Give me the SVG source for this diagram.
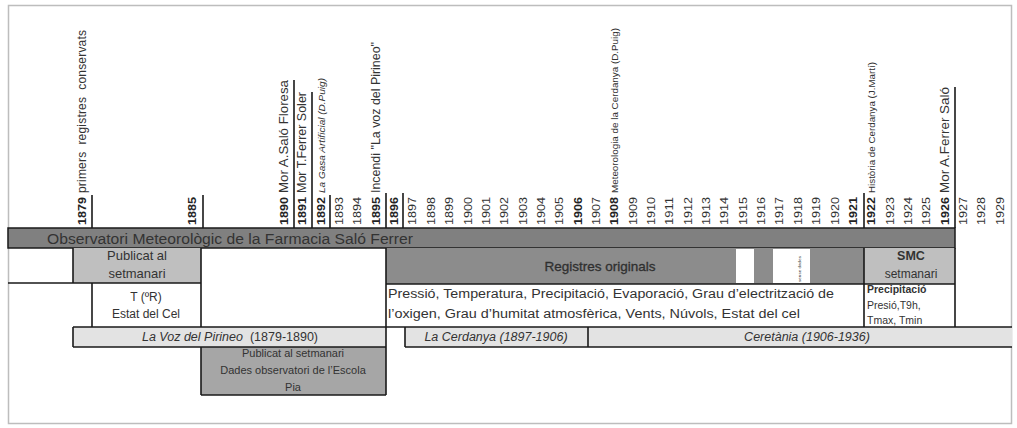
<svg xmlns="http://www.w3.org/2000/svg" width="1017" height="428" viewBox="0 0 1017 428">
<style>
text{font-family:"Liberation Sans",Arial,sans-serif;fill:#333}
.yr{font-size:11px}
.yb{font-size:11px;font-weight:bold;fill:#222}
.ev{font-size:12px}
.sm{font-size:8.5px}
.ln{stroke:#1a1a1a;stroke-width:1.6;fill:none}
.c{text-anchor:middle}
</style>
<rect x="0" y="0" width="1017" height="428" fill="#fff"/>
<rect x="8.5" y="5.5" width="1003" height="418" fill="none" stroke="#bdbdbd" stroke-width="1.5"/>

<g id="years">
<text class="yb" textLength="28" lengthAdjust="spacingAndGlyphs" transform="translate(86,225) rotate(-90)">1879</text>
<text class="yb" textLength="28" lengthAdjust="spacingAndGlyphs" transform="translate(196,225) rotate(-90)">1885</text>
<text class="yb" textLength="28" lengthAdjust="spacingAndGlyphs" transform="translate(288,225) rotate(-90)">1890</text>
<text class="yb" textLength="28" lengthAdjust="spacingAndGlyphs" transform="translate(306.3,225) rotate(-90)">1891</text>
<text class="yb" textLength="28" lengthAdjust="spacingAndGlyphs" transform="translate(324.7,225) rotate(-90)">1892</text>
<text class="yr" textLength="28" lengthAdjust="spacingAndGlyphs" transform="translate(343,225) rotate(-90)">1893</text>
<text class="yr" textLength="28" lengthAdjust="spacingAndGlyphs" transform="translate(361.4,225) rotate(-90)">1894</text>
<text class="yb" textLength="28" lengthAdjust="spacingAndGlyphs" transform="translate(379.7,225) rotate(-90)">1895</text>
<text class="yb" textLength="28" lengthAdjust="spacingAndGlyphs" transform="translate(398.1,225) rotate(-90)">1896</text>
<text class="yr" textLength="28" lengthAdjust="spacingAndGlyphs" transform="translate(416.4,225) rotate(-90)">1897</text>
<text class="yr" textLength="28" lengthAdjust="spacingAndGlyphs" transform="translate(434.8,225) rotate(-90)">1898</text>
<text class="yr" textLength="28" lengthAdjust="spacingAndGlyphs" transform="translate(453.1,225) rotate(-90)">1899</text>
<text class="yr" textLength="28" lengthAdjust="spacingAndGlyphs" transform="translate(471.5,225) rotate(-90)">1900</text>
<text class="yr" textLength="28" lengthAdjust="spacingAndGlyphs" transform="translate(489.8,225) rotate(-90)">1901</text>
<text class="yr" textLength="28" lengthAdjust="spacingAndGlyphs" transform="translate(508.2,225) rotate(-90)">1902</text>
<text class="yr" textLength="28" lengthAdjust="spacingAndGlyphs" transform="translate(526.5,225) rotate(-90)">1903</text>
<text class="yr" textLength="28" lengthAdjust="spacingAndGlyphs" transform="translate(544.9,225) rotate(-90)">1904</text>
<text class="yr" textLength="28" lengthAdjust="spacingAndGlyphs" transform="translate(563.2,225) rotate(-90)">1905</text>
<text class="yb" textLength="28" lengthAdjust="spacingAndGlyphs" transform="translate(581.6,225) rotate(-90)">1906</text>
<text class="yr" textLength="28" lengthAdjust="spacingAndGlyphs" transform="translate(599.9,225) rotate(-90)">1907</text>
<text class="yb" textLength="28" lengthAdjust="spacingAndGlyphs" transform="translate(618.3,225) rotate(-90)">1908</text>
<text class="yr" textLength="28" lengthAdjust="spacingAndGlyphs" transform="translate(636.6,225) rotate(-90)">1909</text>
<text class="yr" textLength="28" lengthAdjust="spacingAndGlyphs" transform="translate(655,225) rotate(-90)">1910</text>
<text class="yr" textLength="28" lengthAdjust="spacingAndGlyphs" transform="translate(673.3,225) rotate(-90)">1911</text>
<text class="yr" textLength="28" lengthAdjust="spacingAndGlyphs" transform="translate(691.7,225) rotate(-90)">1912</text>
<text class="yr" textLength="28" lengthAdjust="spacingAndGlyphs" transform="translate(710,225) rotate(-90)">1913</text>
<text class="yr" textLength="28" lengthAdjust="spacingAndGlyphs" transform="translate(728.4,225) rotate(-90)">1914</text>
<text class="yr" textLength="28" lengthAdjust="spacingAndGlyphs" transform="translate(746.7,225) rotate(-90)">1915</text>
<text class="yr" textLength="28" lengthAdjust="spacingAndGlyphs" transform="translate(765.1,225) rotate(-90)">1916</text>
<text class="yr" textLength="28" lengthAdjust="spacingAndGlyphs" transform="translate(783.4,225) rotate(-90)">1917</text>
<text class="yr" textLength="28" lengthAdjust="spacingAndGlyphs" transform="translate(801.8,225) rotate(-90)">1918</text>
<text class="yr" textLength="28" lengthAdjust="spacingAndGlyphs" transform="translate(820.1,225) rotate(-90)">1919</text>
<text class="yr" textLength="28" lengthAdjust="spacingAndGlyphs" transform="translate(838.5,225) rotate(-90)">1920</text>
<text class="yb" textLength="28" lengthAdjust="spacingAndGlyphs" transform="translate(856.8,225) rotate(-90)">1921</text>
<text class="yb" textLength="28" lengthAdjust="spacingAndGlyphs" transform="translate(875.2,225) rotate(-90)">1922</text>
<text class="yr" textLength="28" lengthAdjust="spacingAndGlyphs" transform="translate(893.5,225) rotate(-90)">1923</text>
<text class="yr" textLength="28" lengthAdjust="spacingAndGlyphs" transform="translate(911.9,225) rotate(-90)">1924</text>
<text class="yr" textLength="28" lengthAdjust="spacingAndGlyphs" transform="translate(930.2,225) rotate(-90)">1925</text>
<text class="yb" textLength="28" lengthAdjust="spacingAndGlyphs" transform="translate(948.6,225) rotate(-90)">1926</text>
<text class="yr" textLength="28" lengthAdjust="spacingAndGlyphs" transform="translate(966.9,225) rotate(-90)">1927</text>
<text class="yr" textLength="28" lengthAdjust="spacingAndGlyphs" transform="translate(985.3,225) rotate(-90)">1928</text>
<text class="yr" textLength="28" lengthAdjust="spacingAndGlyphs" transform="translate(1003.6,225) rotate(-90)">1929</text>
</g>

<g id="events">
<text class="ev" textLength="163" transform="translate(86,193) rotate(-90)" xml:space="preserve">primers  registres  conservats</text>
<text class="ev" textLength="113" lengthAdjust="spacingAndGlyphs" transform="translate(288,193) rotate(-90)">Mor A.Saló Floresa</text>
<text class="ev" textLength="101" lengthAdjust="spacingAndGlyphs" transform="translate(306.3,193) rotate(-90)">Mor T.Ferrer Soler</text>
<text class="sm" font-style="italic" textLength="115" lengthAdjust="spacingAndGlyphs" transform="translate(324.7,193) rotate(-90)">La Gasa Artificial (D.Puig)</text>
<text class="ev" font-size="11" textLength="151" lengthAdjust="spacingAndGlyphs" transform="translate(379.7,193) rotate(-90)">Incendi "La voz del Pirineo"</text>
<text class="sm" textLength="165" lengthAdjust="spacingAndGlyphs" transform="translate(618.3,193) rotate(-90)">Meteorologia de la Cerdanya (D.Puig)</text>
<text class="sm" textLength="131" lengthAdjust="spacingAndGlyphs" transform="translate(875.2,193) rotate(-90)">Història de Cerdanya (J.Martí)</text>
<text class="ev" textLength="106" lengthAdjust="spacingAndGlyphs" transform="translate(948.6,193) rotate(-90)">Mor A.Ferrer Saló</text>
</g>

<g id="main-bar">
<rect x="8" y="228" width="947" height="20" fill="#808080" stroke="#1a1a1a" stroke-width="1.5"/>
<text x="47" y="244" font-size="15.5" textLength="366" lengthAdjust="spacingAndGlyphs" fill="#2a2a2a">Observatori Meteorològic de la Farmacia Saló Ferrer</text>
</g>

<g id="publicat-1879">
<rect x="73" y="248" width="128" height="35" fill="#bfbfbf"/>
<text class="c" x="137" y="260" font-size="13" fill="#444">Publicat al</text>
<text class="c" x="137" y="278" font-size="13" fill="#444">setmanari</text>
</g>

<g id="t-estat">
<text class="c" x="146" y="301" font-size="12" fill="#444">T (ºR)</text>
<text class="c" x="146" y="318" font-size="12" fill="#444">Estat del Cel</text>
</g>

<g id="registres">
<rect x="386" y="248" width="478" height="36" fill="#8c8c8c"/>
<rect x="736" y="249" width="18" height="34" fill="#fff"/>
<rect x="773" y="249" width="37" height="34" fill="#fff"/>
<text x="600" y="271" class="c" font-size="13.5" fill="#2a2a2a" stroke="#2a2a2a" stroke-width="0.3">Registres originals</text>
<text font-size="4" textLength="26" lengthAdjust="spacingAndGlyphs" transform="translate(801,282) rotate(-90)" fill="#333">sense dades</text>
</g>

<g id="variables">
<text x="388" y="298" font-size="12.5" textLength="446" lengthAdjust="spacingAndGlyphs" fill="#333">Pressió, Temperatura, Precipitació, Evaporació, Grau d’electrització de</text>
<text x="388" y="318" font-size="12.5" textLength="412" lengthAdjust="spacingAndGlyphs" fill="#333">l’oxigen, Grau d’humitat atmosfèrica, Vents, Núvols, Estat del cel</text>
</g>

<g id="smc">
<rect x="864" y="248" width="91" height="36" fill="#bfbfbf"/>
<text class="c" x="911" y="260" font-size="12.5" font-weight="bold" fill="#333">SMC</text>
<text class="c" x="911" y="278" font-size="12" fill="#666">setmanari</text>
</g>

<g id="smc-vars">
<svg x="864" y="284" width="91" height="42">
<text x="3" y="9" font-size="10.5" font-weight="bold" fill="#222">Precipitació</text>
<text x="3" y="25" font-size="10.5" fill="#333">Presió,T9h,</text>
<text x="3" y="40" font-size="10.5" fill="#333">Tmax, Tmin</text>
</svg>
</g>

<g id="la-voz">
<rect x="73" y="327" width="313" height="20" fill="#e3e3e3"/>
<text class="c" x="230" y="341" font-size="12.5" fill="#333" xml:space="preserve"><tspan font-style="italic">La Voz del Pirineo</tspan>  (1879-1890)</text>
</g>

<g id="la-cerdanya">
<rect x="405" y="327" width="183" height="20" fill="#e3e3e3"/>
<text class="c" x="496" y="341" font-size="12.5" font-style="italic" fill="#333">La Cerdanya (1897-1906)</text>
</g>

<g id="ceretania">
<rect x="588" y="327" width="424" height="20" fill="#e3e3e3"/>
<text class="c" x="807" y="341" font-size="12.5" font-style="italic" fill="#333">Ceretània (1906-1936)</text>
</g>

<g id="escola-pia">
<rect x="201" y="347" width="185" height="48" fill="#a6a6a6"/>
<text class="c" x="293" y="357" font-size="11" fill="#333">Publicat al setmanari</text>
<text class="c" x="293" y="374" font-size="11" fill="#333">Dades observatori de l’Escola</text>
<text class="c" x="293" y="391" font-size="11" fill="#333">Pia</text>
</g>

<g id="connectors">
<path class="ln" d="M92 195V228 M203 195V228 M294 80V228 M312 92V228 M330 195V228 M386 193V228 M403 193V228 M864 193V228 M955 87V228"/>
<path class="ln" d="M73 248V283 M8 283H201 M92 283V327 M201 248V327 M386 248V395 M386 284H955 M864 248V327 M955 248V327"/>
<path class="ln" d="M73 327H1012 M73 327V347 M73 347H386 M405 327V347 M405 347H1012 M588 327V347 M201 347V395 M201 395H386"/>
</g>
</svg>
